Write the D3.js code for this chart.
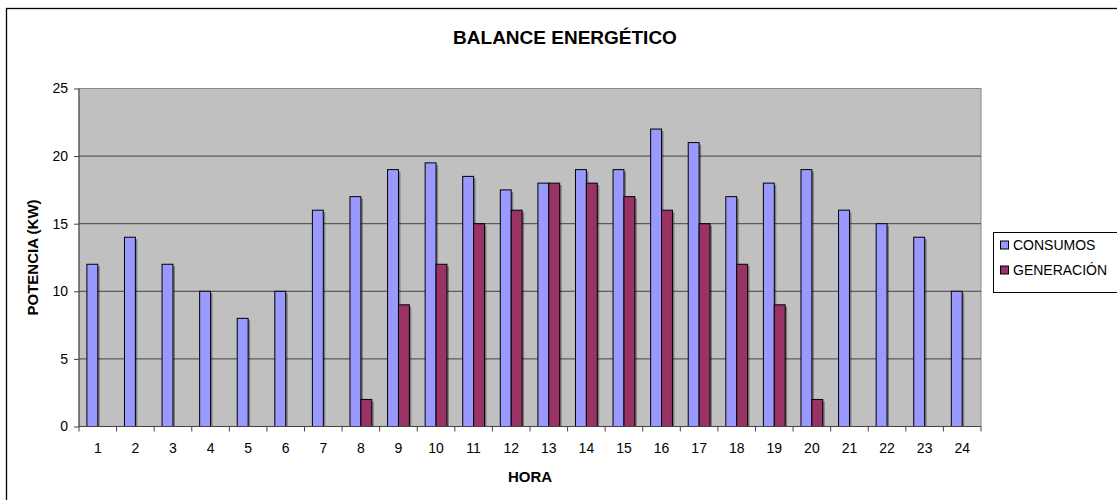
<!DOCTYPE html>
<html><head><meta charset="utf-8">
<script src="https://cdn.jsdelivr.net/npm/d3@7"></script>
<style>body{margin:0;background:#fff;} svg{display:block;font-family:"Liberation Sans",Arial,sans-serif;}</style>
</head><body>
<svg id="c" width="1117" height="500"></svg>
<script>
const hours = ["1","2","3","4","5","6","7","8","9","10","11","12","13","14","15","16","17","18","19","20","21","22","23","24"];
const consumos = [12,14,12,10,8,10,16,17,19,19.5,18.5,17.5,18,19,19,22,21,17,18,19,16,15,14,10];
const generacion = [0,0,0,0,0,0,0,2,9,12,15,16,18,18,17,16,15,12,9,2,0,0,0,0];
const seriesNames = ["CONSUMOS","GENERACIÓN"];
const seriesColors = ["#9999ff","#993366"];
const yTicks = [0,5,10,15,20,25];

const svg = d3.select("#c");
const L=79, R=981, T=88.5, B=426.5;
svg.append("rect").attr("x",6.5).attr("y",8.5).attr("width",1120).attr("height",500)
  .attr("fill","#fff").attr("stroke","#000").attr("stroke-width",1.3);

const x = d3.scaleBand().domain(hours).range([L,R]).paddingInner(0).paddingOuter(0);
const y = d3.scaleLinear().domain([0,25]).range([B,T]);
const bw = x.bandwidth();
const barW = bw*0.29;
const x1 = d3.scaleBand().domain(seriesNames).range([bw/2-barW, bw/2+barW]);

svg.append("rect").attr("x",L).attr("y",T).attr("width",R-L).attr("height",B-T)
  .attr("fill","#c0c0c0").attr("stroke","#8a8a8a").attr("stroke-width",1);

svg.append("g").selectAll("line").data(yTicks.filter(d=>d>0&&d<25)).join("line")
  .attr("x1",L).attr("x2",R).attr("y1",d=>y(d)).attr("y2",d=>y(d))
  .attr("stroke","#444").attr("stroke-width",1);

const data = [consumos, generacion];
data.forEach((vals,si)=>{
  const g = svg.append("g");
  const items = vals.map((v,i)=>({h:hours[i],v})).filter(d=>d.v>0);
  g.selectAll("rect.sh").data(items).join("rect")
    .attr("x",d=>x(d.h)+x1(seriesNames[si])+2).attr("y",d=>y(d.v)+2)
    .attr("width",x1.bandwidth()).attr("height",d=>B-y(d.v)-2)
    .attr("fill","#000").attr("opacity",0.35);
  g.selectAll("rect.b").data(items).join("rect")
    .attr("x",d=>x(d.h)+x1(seriesNames[si])).attr("y",d=>y(d.v))
    .attr("width",x1.bandwidth()).attr("height",d=>B-y(d.v))
    .attr("fill",seriesColors[si]).attr("stroke","#000").attr("stroke-width",1);
});

// axes
svg.append("line").attr("x1",L).attr("x2",L).attr("y1",T).attr("y2",B).attr("stroke","#444");
svg.append("line").attr("x1",L).attr("x2",R).attr("y1",B).attr("y2",B).attr("stroke","#444");
const yA = svg.append("g").attr("transform",`translate(${L},0)`)
  .call(d3.axisLeft(y).tickValues(yTicks).tickSize(5).tickPadding(6));
yA.select(".domain").remove();
yA.selectAll("line").attr("stroke","#444");
yA.selectAll("text").attr("font-size",14).attr("fill","#000").attr("font-family","Liberation Sans, Arial, sans-serif");

const xA = svg.append("g").attr("transform",`translate(0,${B})`)
  .call(d3.axisBottom(x).tickSize(0).tickPadding(17));
xA.select(".domain").remove();
xA.selectAll("text").attr("font-size",14).attr("fill","#000").attr("font-family","Liberation Sans, Arial, sans-serif");
svg.append("g").selectAll("line").data(hours.concat(["end"])).join("line")
  .attr("x1",(d,i)=>i<hours.length?x(d):R).attr("x2",(d,i)=>i<hours.length?x(d):R)
  .attr("y1",B).attr("y2",B+5).attr("stroke","#444");

svg.append("text").attr("x",565).attr("y",44).attr("text-anchor","middle")
  .attr("font-size",19).attr("font-weight","bold").text("BALANCE ENERGÉTICO");
svg.append("text").attr("x",(L+R)/2).attr("y",482).attr("text-anchor","middle")
  .attr("font-size",15).attr("font-weight","bold").text("HORA");
svg.append("text").attr("transform",`translate(38,${(T+B)/2}) rotate(-90)`).attr("text-anchor","middle")
  .attr("font-size",15).attr("font-weight","bold").text("POTENCIA (KW)");

// legend
const lg = svg.append("g");
lg.append("rect").attr("x",993.5).attr("y",232.5).attr("width",140).attr("height",60)
  .attr("fill","#fff").attr("stroke","#000").attr("stroke-width",1);
seriesNames.forEach((n,i)=>{
  const yy = 245+i*25;
  lg.append("rect").attr("x",1000.5).attr("y",yy-4).attr("width",8).attr("height",8)
    .attr("fill",seriesColors[i]).attr("stroke","#000");
  lg.append("text").attr("x",1013).attr("y",yy+5).attr("font-size",14).text(n);
});
</script>
</body></html>
